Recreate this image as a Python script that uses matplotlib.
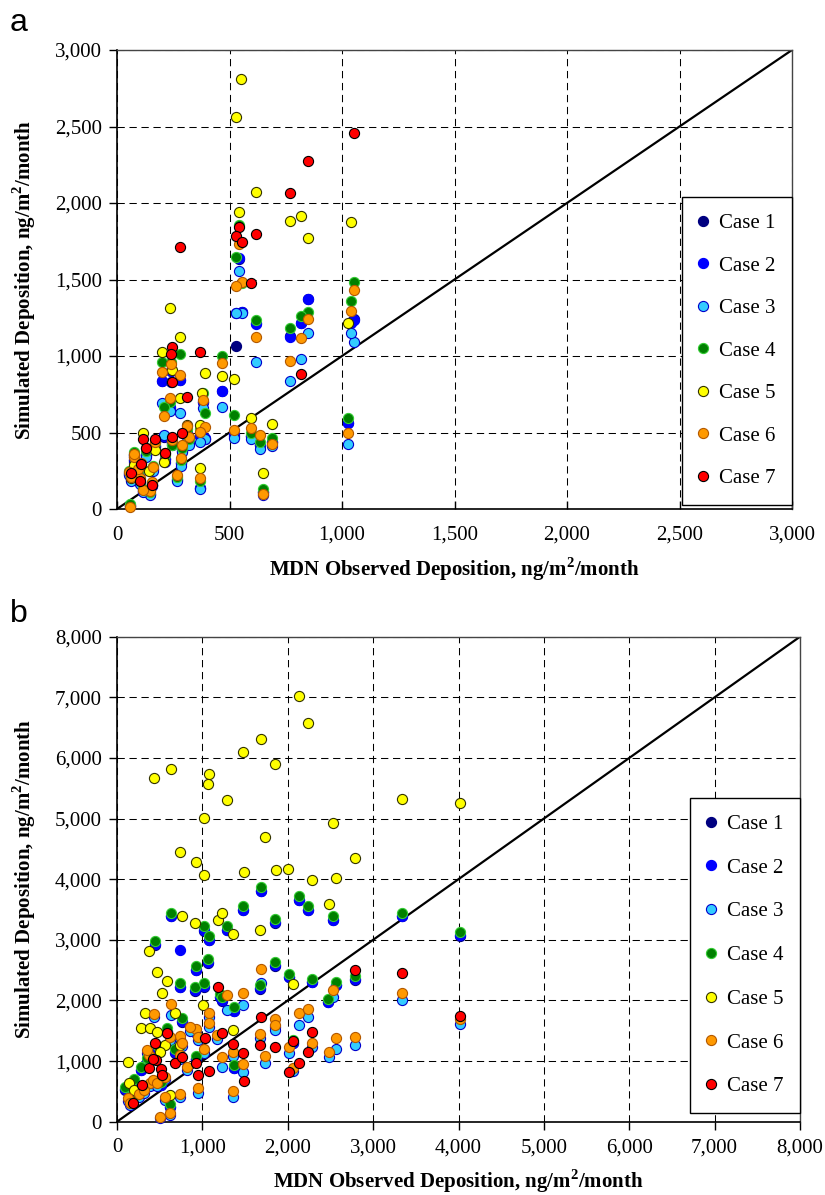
import matplotlib
matplotlib.use("Agg")
import matplotlib.pyplot as plt
from matplotlib.ticker import FuncFormatter, MultipleLocator

plt.rcParams['font.family'] = ['Liberation Serif', 'DejaVu Serif']
plt.rcParams['mathtext.fontset'] = 'custom'
plt.rcParams['mathtext.bf'] = 'Liberation Serif:bold'
plt.rcParams['mathtext.rm'] = 'Liberation Serif'

CASES = ['Case 1', 'Case 2', 'Case 3', 'Case 4', 'Case 5', 'Case 6', 'Case 7']
FACE = ['#000080', '#0000FF', '#33CCFF', '#008000', '#FFFF00', '#FF9900', '#FF0000']
EDGE = ['#000080', '#0000FF', '#0000CC', '#33CC33', '#333300', '#B35900', '#000000']

# ---------------- Panel a data ----------------
A_SITE_X = [1055, 1040, 1025, 849, 818, 767, 689, 649, 634, 618, 595, 555, 540, 530, 521,
            467, 392, 382, 370, 367, 318, 311, 289, 284, 281, 267, 244, 240, 237, 207,
            200, 215, 170, 160, 155, 148, 130, 116, 107, 101, 95, 77, 74, 62, 59, 55]
A_C1_Y = [1240, 1220, 560, 1370, 1215, 1130, 440, 110, 420, 1215, 480, 1285, 1635, 1068, 480,
          770, 460, 700, 480, 140, 430, 500, 380, 300, 840, 190, 430, 900, 660, 470,
          835, 330, 410, 260, 160, 95, 350, 115, 260, 170, 230, 320, 350, 190, 20, 230]
A_C2_Y = [1235, 1215, 560, 1373, 1214, 1126, 440, 110, 420, 1210, 480, 1290, 1639, 1283, 490,
          773, 465, 700, 480, 140, 430, 500, 385, 300, 845, 195, 430, 905, 665, 475,
          839, 330, 410, 260, 160, 95, 350, 118, 265, 175, 235, 320, 355, 195, 25, 235]
A_C3_Y = [1094, 1149, 425, 1153, 978, 839, 410, 90, 390, 963, 455, 1283, 1556, 1283, 466,
          664, 455, 660, 440, 128, 418, 470, 370, 280, 625, 185, 418, 830, 640, 484,
          690, 310, 400, 250, 150, 91, 340, 110, 250, 165, 225, 310, 340, 185, 20, 220]
A_C4_Y = [1486, 1362, 592, 1290, 1261, 1180, 462, 128, 440, 1235, 500, 1480, 1856, 1645, 614,
          1002, 625, 760, 520, 180, 460, 520, 397, 320, 1013, 210, 418, 960, 700, 664,
          963, 350, 430, 280, 170, 110, 380, 130, 290, 190, 250, 360, 375, 230, 30, 250]
A_C6_Y = [1431, 1296, 499, 1242, 1116, 968, 425, 98, 484, 1122, 532, 1486, 1732, 1458, 516,
          952, 534, 712, 505, 200, 470, 540, 420, 331, 876, 222, 450, 948, 723, 608,
          898, 364, 440, 277, 175, 120, 400, 124, 300, 200, 260, 342, 360, 210, 11, 240]
A_C5_X = [552, 530, 619, 540, 767, 818, 1040, 849, 237, 1025, 200, 281, 244, 392, 467,
          521, 281, 378, 595, 689, 649, 116, 170, 311, 367, 367, 210, 75, 140, 60]
A_C5_Y = [2808, 2564, 2074, 1939, 1882, 1913, 1874, 1773, 1312, 1214, 1028, 1122, 908, 891, 869,
          847, 723, 760, 592, 553, 237, 494, 386, 549, 549, 266, 309, 290, 250, 200]
A_C7_X = [1055, 849, 767, 540, 530, 619, 556, 281, 596, 367, 818, 244, 240, 244, 311,
          116, 170, 244, 289, 130, 215, 107, 62, 101, 155]
A_C7_Y = [2455, 2275, 2067, 1845, 1786, 1797, 1743, 1714, 1475, 1028, 882, 1061, 1013, 832, 734,
          455, 455, 473, 494, 397, 364, 294, 237, 185, 157]

# ---------------- Panel b data ----------------
B_C4_X = [97, 284, 441, 585, 616, 636, 683, 742, 761, 917, 925, 928, 1022, 1022, 1065,
          1077, 1210, 1229, 1284, 1366, 1366, 1475, 1670, 1686, 1854, 1854, 2020, 2060, 2127, 2236,
          2283, 2466, 2529, 2568, 2783, 3341, 4020, 200, 350, 480, 520, 160]
B_C4_Y = [577, 906, 2982, 1538, 291, 3449, 1192, 2280, 1703, 2225, 2565, 1082, 3224, 2290, 2680,
          3059, 2114, 2059, 3224, 1884, 934, 3553, 2251, 3872, 3339, 2636, 2444, 1346, 3718, 3559,
          2362, 2032, 3388, 2307, 2400, 3448, 3125, 700, 1050, 1250, 650, 420]
B_C1_X = [97, 284, 441, 585, 616, 636, 683, 742, 761, 917, 925, 928, 1022, 1022, 1065,
          1077, 1210, 1229, 1284, 1366, 1366, 1475, 1670, 1686, 1854, 1854, 2020, 2060, 2127, 2236,
          2283, 2466, 2529, 2568, 2783, 3341, 4020, 200, 350, 480, 520, 160]
B_C1_Y = [530, 850, 2910, 1480, 245, 3390, 1140, 2220, 1650, 2160, 2500, 1030, 3150, 2230, 2620,
          2990, 2050, 1990, 3160, 1820, 880, 3490, 2190, 3800, 3280, 2570, 2380, 1290, 3650, 3490,
          2300, 1970, 3320, 2250, 2340, 3390, 3070, 650, 990, 1190, 600, 380]
B_C2_X = [97, 284, 441, 585, 616, 636, 683, 742, 761, 917, 925, 928, 1022, 1022, 1065,
          1077, 1210, 1229, 1284, 1366, 1366, 1475, 1670, 1686, 1854, 1854, 2020, 2060, 2127, 2236,
          2283, 2466, 2529, 2568, 2783, 3341, 4020, 200, 350, 480, 520, 160, 742]
B_C2_Y = [540, 860, 2930, 1490, 250, 3400, 1150, 2230, 1660, 2170, 2510, 1040, 3160, 2240, 2630,
          3000, 2060, 2000, 3170, 1830, 890, 3500, 2200, 3810, 3290, 2580, 2390, 1300, 3660, 3500,
          2310, 1980, 3330, 2260, 2350, 3400, 3080, 660, 1000, 1200, 610, 390, 2828]
B_C6_X = [124, 253, 370, 390, 421, 429, 499, 566, 566, 616, 636, 733, 741, 741, 819,
          928, 944, 944, 1022, 1073, 1081, 1170, 1229, 1288, 1358, 1358, 1475, 1475, 1670, 1686,
          1737, 1854, 1854, 2020, 2060, 2127, 2236, 2283, 2478, 2529, 2568, 2783, 3341, 4020, 156,
          312, 468, 351, 624, 858, 761]
B_C6_Y = [385, 456, 1093, 632, 686, 1774, 82, 742, 401, 137, 1939, 456, 1411, 1093, 906,
          1521, 1400, 549, 1192, 1785, 1620, 1428, 1071, 2087, 1154, 511, 2125, 950, 1444, 2525,
          1088, 1686, 1593, 1236, 879, 1796, 1867, 1302, 1154, 2180, 1373, 1390, 2125, 1692, 302,
          522, 632, 1181, 1400, 1565, 1302]
B_C3_X = [124, 253, 370, 390, 421, 429, 499, 566, 566, 616, 636, 733, 741, 741, 819,
          928, 944, 944, 1022, 1073, 1081, 1170, 1229, 1288, 1358, 1358, 1475, 1475, 1670, 1686,
          1737, 1854, 1854, 2020, 2060, 2127, 2236, 2283, 2478, 2529, 2568, 2783, 3341, 4020, 156,
          312, 468, 351, 624, 858, 761]
B_C3_Y = [340, 410, 1040, 590, 640, 1720, 60, 700, 360, 110, 1757, 410, 1360, 1040, 850,
          1460, 1340, 467, 1140, 1720, 1560, 1370, 906, 1850, 1090, 412, 1922, 824, 1380, 2289,
          961, 1560, 1510, 1126, 835, 1603, 1729, 1240, 1060, 2050, 1192, 1264, 2005, 1614, 270,
          480, 590, 1130, 1340, 1500, 1250]
B_C5_X = [2127, 2236, 1686, 1475, 1854, 437, 636, 1077, 1065, 1284, 3341, 1022, 2529, 1733, 741,
          925, 2783, 4020, 1022, 1483, 1861, 1998, 2283, 2568, 2478, 761, 917, 1178, 1229, 1358,
          1670, 370, 468, 585, 526, 1007, 2060, 331, 683, 281, 390, 468, 1358, 566, 507,
          733, 124, 136, 195, 624]
B_C5_Y = [7030, 6580, 6305, 6102, 5893, 5667, 5811, 5740, 5563, 5300, 5321, 5003, 4921, 4701, 4448,
          4280, 4356, 5250, 4064, 4119, 4146, 4163, 3993, 4025, 3597, 3388, 3278, 3322, 3443, 3102,
          3157, 2812, 2472, 2318, 2125, 1933, 2279, 1796, 1796, 1549, 1538, 1483, 1510, 1264, 1154,
          1264, 978, 632, 522, 440]
B_C7_X = [2783, 3337, 1178, 1686, 1229, 2283, 2060, 2236, 2127, 2020, 1475, 1483, 1670, 1854, 1026,
          1358, 585, 448, 460, 683, 761, 928, 944, 1073, 370, 515, 526, 292, 187, 421, 4020]
B_C7_Y = [2510, 2460, 2225, 1729, 1455, 1483, 1334, 1142, 961, 824, 1126, 670, 1264, 1236, 1373,
          1274, 1466, 1291, 1016, 972, 1071, 972, 769, 840, 879, 862, 769, 604, 313, 1027, 1750]

PANEL_A = [(A_SITE_X, A_C1_Y), (A_SITE_X, A_C2_Y), (A_SITE_X, A_C3_Y), (A_SITE_X, A_C4_Y),
           (A_C5_X, A_C5_Y), (A_SITE_X, A_C6_Y), (A_C7_X, A_C7_Y)]
PANEL_B = [(B_C1_X, B_C1_Y), (B_C2_X, B_C2_Y), (B_C3_X, B_C3_Y), (B_C4_X, B_C4_Y),
           (B_C5_X, B_C5_Y), (B_C6_X, B_C6_Y), (B_C7_X, B_C7_Y)]

W, H = 825, 1195
fig = plt.figure(figsize=(W / 100, H / 100), dpi=100)

XLABEL = 'MDN Observed Deposition, ng/m$^{\\mathbf{2}}$/month'
YLABEL = 'Simulated Deposition, ng/m$^{\\mathbf{2}}$/month'
SERIF = ['Liberation Serif', 'DejaVu Serif']

fmt = FuncFormatter(lambda v, p: f'{v:,.0f}')


def make_panel(rect, data, vmax, step, leg_y, lspace, xtick_dir, xpad, xlpad, label, label_y):
    ax = fig.add_axes(rect)
    for i, (xs, ys) in enumerate(data):
        ax.plot(xs, ys, ls='none', marker='o', ms=7.3, mfc=FACE[i], mec=EDGE[i],
                mew=0.8, label=CASES[i], zorder=3 + i, clip_on=False)
    ax.plot([0, vmax], [0, vmax], color='black', lw=1.6, zorder=2)
    ax.set_xlim(0, vmax)
    ax.set_ylim(0, vmax)
    ax.xaxis.set_major_locator(MultipleLocator(step))
    ax.yaxis.set_major_locator(MultipleLocator(step))
    ax.xaxis.set_major_formatter(fmt)
    ax.yaxis.set_major_formatter(fmt)
    ax.grid(True, color='black', lw=0.75, ls=(0, (7, 4.5)), zorder=1)
    ax.set_axisbelow(True)
    for s in ['left', 'bottom']:
        ax.spines[s].set_linewidth(1.2)
        ax.spines[s].set_color('black')
    for s in ['top', 'right']:
        ax.spines[s].set_linewidth(1.0)
        ax.spines[s].set_color('#444444')
    ax.tick_params(axis='y', direction='out', length=6, width=1, labelsize=15, pad=5)
    ax.tick_params(axis='x', direction=xtick_dir, length=6, width=1, labelsize=15, pad=xpad)
    ax.set_xlabel(XLABEL, fontsize=15, fontweight='bold', labelpad=xlpad)
    ax.set_ylabel(YLABEL, fontsize=15, fontweight='bold', labelpad=12)
    leg = ax.legend(loc='lower right', bbox_to_anchor=(1.0, leg_y),
                    prop={'family': SERIF, 'size': 15},
                    frameon=True, fancybox=False, edgecolor='black', framealpha=1,
                    borderpad=0.8, labelspacing=lspace, handlelength=0.4,
                    handletextpad=0.55, borderaxespad=0, markerscale=1.0)
    leg.get_frame().set_linewidth(1.0)
    leg.set_zorder(20)
    fig.text(10 / W, 1 - label_y / H, label, fontsize=23, family='Liberation Sans',
             va='baseline', ha='left')
    return ax


make_panel([117 / W, 1 - 509 / H, 675 / W, 459 / H], PANEL_A, 3000, 500, 0.009, 1.1,
           'in', 12, 8, 'a', 31)
make_panel([117 / W, 1 - 1121.7 / H, 683 / W, 485 / H], PANEL_B, 8000, 1000, 0.018, 1.16,
           'out', 6, 7, 'b', 622)

fig.savefig('out.png', dpi=100)
